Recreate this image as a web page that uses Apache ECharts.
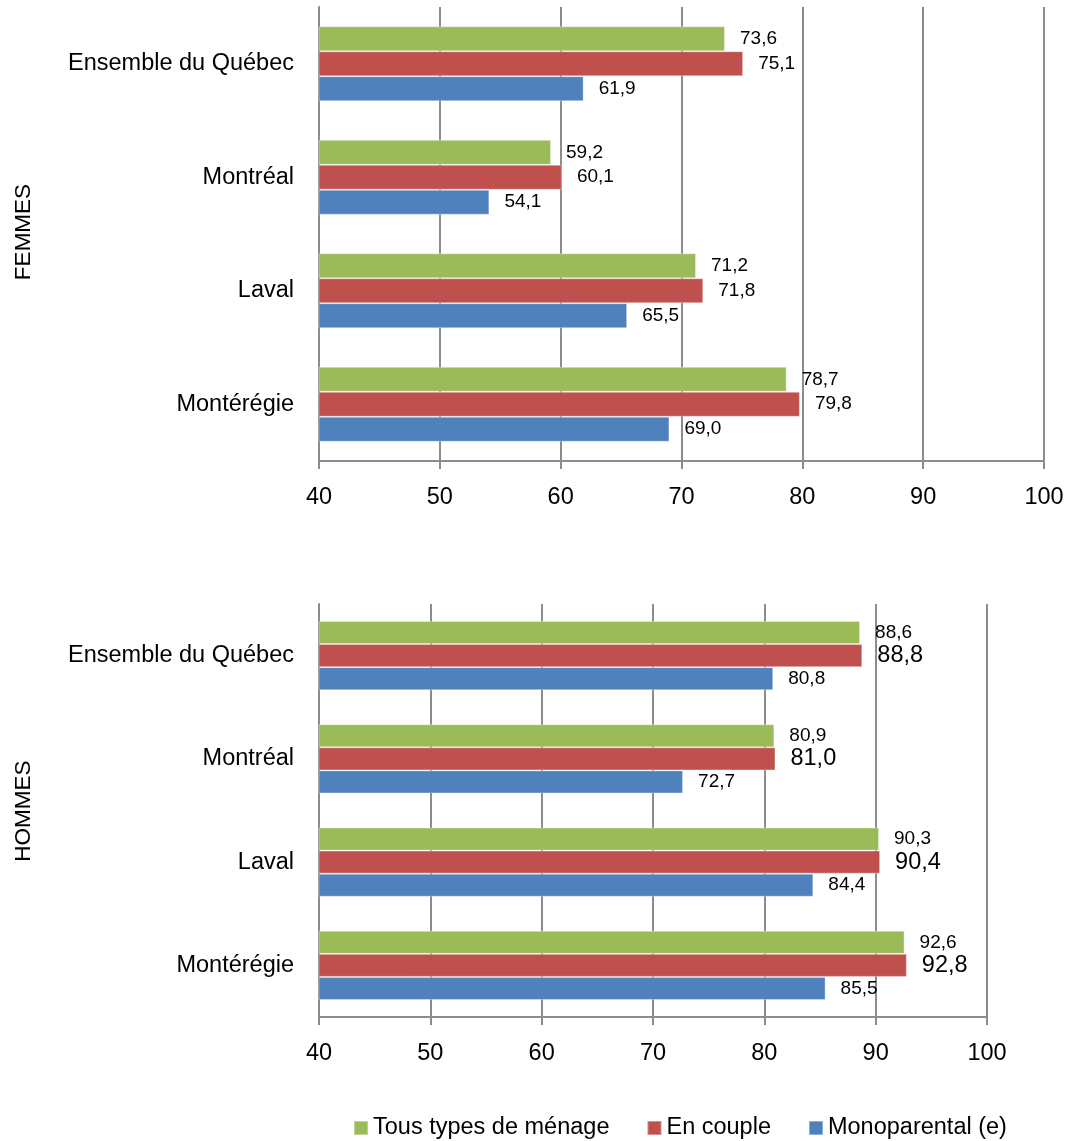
<!DOCTYPE html>
<html>
<head>
<meta charset="utf-8">
<script src="https://cdn.jsdelivr.net/npm/echarts@6/dist/echarts.min.js"></script>
<style>
  html, body { margin: 0; padding: 0; background: #fff; }
  #chart { width: 1069px; height: 1141px; }
</style>
</head>
<body>
<div id="chart"></div>
<script>
// catégories et valeurs
const categories = ['Ensemble du Québec', 'Montréal', 'Laval', 'Montérégie']
const seriesNames = ['Tous types de ménage', 'En couple', 'Monoparental (e)']
const colors = ['#9BBB59', '#C0504D', '#4F81BD']

const femmesTous = [73.6, 59.2, 71.2, 78.7]
const femmesCouple = [75.1, 60.1, 71.8, 79.8]
const femmesMono = [61.9, 54.1, 65.5, 69.0]

const hommesTous = [88.6, 80.9, 90.3, 92.6]
const hommesCouple = [88.8, 81.0, 90.4, 92.8]
const hommesMono = [80.8, 72.7, 84.4, 85.5]

const xTicks = { min: 40, max: 100, interval: 10 }

const font = 'Liberation Sans'
const gridColor = '#8c8c8c'

const fmt = (p) => p.value.toFixed(1).replace('.', ',')

const makeX = (gridIndex) => ({
  type: 'value',
  gridIndex,
  min: xTicks.min,
  max: xTicks.max,
  interval: xTicks.interval,
  axisLine: { show: true, lineStyle: { color: gridColor, width: 2 } },
  axisTick: { show: true, length: 8, lineStyle: { color: gridColor, width: 2 } },
  splitLine: { show: true, lineStyle: { color: gridColor, width: 2 } },
  axisLabel: { color: '#000', fontFamily: font, fontSize: 23.5, margin: 25 }
})

const makeY = (gridIndex) => ({
  type: 'category',
  gridIndex,
  inverse: true,
  data: categories,
  axisLine: { show: true, lineStyle: { color: gridColor, width: 2 } },
  axisTick: { show: false },
  axisLabel: { color: '#000', fontFamily: font, fontSize: 23.5, margin: 25 }
})

const makeBar = (name, data, color, axisIndex, labelSize, gap) => ({
  name,
  type: 'bar',
  xAxisIndex: axisIndex,
  yAxisIndex: axisIndex,
  data,
  barGap: 0,
  barCategoryGap: gap,
  itemStyle: { color, borderColor: 'rgba(255,255,255,0.35)', borderWidth: 1 },
  label: {
    show: true,
    position: 'right',
    distance: 15,
    color: '#000',
    fontFamily: font,
    fontSize: labelSize,
    formatter: fmt
  }
})

const chart = echarts.init(document.getElementById('chart'))

const option = {
  animation: false,
  backgroundColor: '#fff',
  grid: [
    { left: 319, top: 7, width: 725, height: 454 },
    { left: 319, top: 604, width: 668, height: 413 }
  ],
  xAxis: [makeX(0), makeX(1)],
  yAxis: [makeY(0), makeY(1)],
  legend: {
    left: 348,
    top: 1111,
    itemWidth: 14,
    itemHeight: 14,
    itemGap: 37,
    icon: 'rect',
    data: seriesNames,
    textStyle: { color: '#000', fontFamily: font, fontSize: 23.5 }
  },
  graphic: [
    {
      type: 'text',
      x: 24, y: 232,
      rotation: Math.PI / 2,
      style: { text: 'FEMMES', fill: '#000', font: '22.5px "Liberation Sans"', align: 'center', verticalAlign: 'middle' }
    },
    {
      type: 'text',
      x: 24, y: 811,
      rotation: Math.PI / 2,
      style: { text: 'HOMMES', fill: '#000', font: '22.5px "Liberation Sans"', align: 'center', verticalAlign: 'middle' }
    }
  ],
  series: [
    makeBar(seriesNames[0], femmesTous, colors[0], 0, 19, '34%'),
    makeBar(seriesNames[1], femmesCouple, colors[1], 0, 19, '34%'),
    makeBar(seriesNames[2], femmesMono, colors[2], 0, 19, '34%'),
    makeBar(seriesNames[0], hommesTous, colors[0], 1, 19, '33%'),
    makeBar(seriesNames[1], hommesCouple, colors[1], 1, 23.5, '33%'),
    makeBar(seriesNames[2], hommesMono, colors[2], 1, 19, '33%')
  ]
}

chart.setOption(option)
</script>
</body>
</html>
